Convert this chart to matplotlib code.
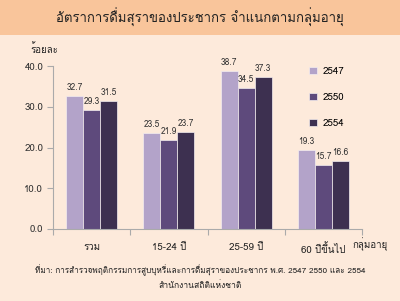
import matplotlib
matplotlib.use("Agg")
import matplotlib.pyplot as plt
import numpy as np
from matplotlib import font_manager
from matplotlib.ft2font import FT2Font
from matplotlib.patches import Rectangle

# ---- pick a font with Thai glyphs ----
thai_font = None
for f in font_manager.fontManager.ttflist:
    try:
        cm = FT2Font(f.fname).get_charmap()
        if 0x0E01 in cm and 0x0E3F in cm:
            thai_font = f.name
            break
    except Exception:
        pass
families = ([thai_font] if thai_font else []) + ["DejaVu Sans"]
plt.rcParams['font.family'] = families

# ---- data ----
categories = ["รวม", "15-24 ปี", "25-59 ปี", "60 ปีขึ้นไป"]
series_names = ["2547", "2550", "2554"]
v2547 = [32.7, 23.5, 38.7, 19.3]
v2550 = [29.3, 21.9, 34.5, 15.7]
v2554 = [31.5, 23.7, 37.3, 16.6]
yticks = [0, 10, 20, 30, 40]

colors = ["#B3A3C9", "#5E4A7C", "#3D3050"]
bg = "#FDEADB"

fig = plt.figure(figsize=(4.0, 3.01), dpi=100)
fig.patch.set_facecolor(bg)

# title band
fig.patches.append(Rectangle((0, 1 - 35/301), 1, 35/301, transform=fig.transFigure,
                             facecolor="#F9C59B", edgecolor="none", zorder=0))
fig.text(0.5, 1 - 17/301, "อัตราการดื่มสุราของประชากร จำแนกตามกลุ่มอายุ",
         ha="center", va="center", fontsize=9.5, color="#222222")

ax = fig.add_axes([53/400, 1 - 229/301, (362 - 53)/400, (229 - 66)/301])
ax.set_facecolor(bg)

x = np.arange(len(categories))
w = 0.22
for i, (vals, c) in enumerate(zip([v2547, v2550, v2554], colors)):
    bars = ax.bar(x + (i - 1) * w, vals, w, color=c, edgecolor="#F4EEF0",
                  linewidth=0.5, label=series_names[i], zorder=2)
    for b, v in zip(bars, vals):
        ax.text(b.get_x() + b.get_width() / 2, v + 1.0, f"{v:.1f}",
                ha="center", va="bottom", fontsize=6, color="#333333", zorder=3)

ax.set_xlim(-0.5, len(categories) - 0.5)
ax.set_ylim(0, 40)
ax.set_yticks(yticks)
ax.set_yticklabels([f"{t:.1f}" for t in yticks], fontsize=7, color="#333333")
ax.set_xticks(np.arange(-0.5, len(categories), 1.0))
ax.set_xticklabels([])
ax.set_xticks(x, minor=True)
ax.set_xticklabels(categories, minor=True, fontsize=7, color="#222222")
ax.tick_params(axis="x", which="minor", length=0, pad=10)
ax.tick_params(axis="x", which="major", length=4, color="#AAAAAA", direction="out")
ax.tick_params(axis="y", length=4, color="#AAAAAA", pad=3)
for s in ["top", "right"]:
    ax.spines[s].set_visible(False)
for s in ["left", "bottom"]:
    ax.spines[s].set_color("#AAAAAA")
    ax.spines[s].set_linewidth(0.8)

leg = ax.legend(loc="upper left", bbox_to_anchor=(0.8, 1.05), frameon=False,
                fontsize=7, handlelength=0.8, handleheight=0.8, labelspacing=1.75,
                handletextpad=0.6)

fig.text(30/400, 1 - 49/301, "ร้อยละ", fontsize=7, ha="left", va="center", color="#222222")
fig.text(388/400, 1 - 244/301, "กลุ่มอายุ", fontsize=7, ha="right", va="center", color="#222222")
fig.text(0.5, 1 - 270/301, "ที่มา: การสำรวจพฤติกรรมการสูบบุหรี่และการดื่มสุราของประชากร พ.ศ. 2547 2550 และ 2554",
         fontsize=5.9, ha="center", va="center", color="#222222")
fig.text(0.5, 1 - 286/301, "สำนักงานสถิติแห่งชาติ",
         fontsize=6.2, ha="center", va="center", color="#222222")

fig.savefig("out.png", dpi=100, facecolor=bg)
